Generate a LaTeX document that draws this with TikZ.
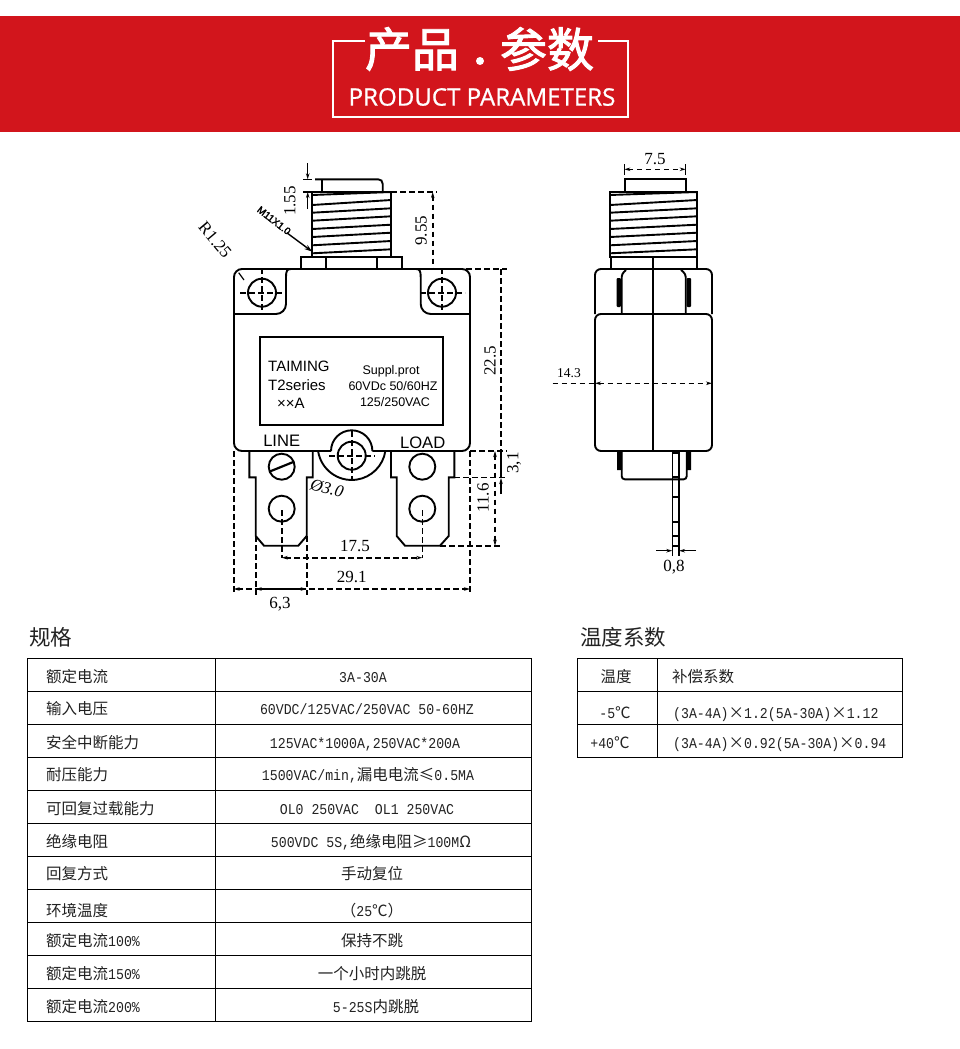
\documentclass[tikz,border=0pt]{standalone}
\usepackage{fontspec}
\usetikzlibrary{arrows.meta}
\setmainfont{Liberation Serif}
\setsansfont{Liberation Sans}
\setmonofont[FakeStretch=0.88]{Liberation Mono}
\newfontfamily\cjk{Noto Sans CJK SC}
\newfontfamily\cjkhead[FakeBold=2]{Noto Sans CJK SC}
\newfontfamily\headfont[FakeBold=0.9]{Open Sans}
\newfontfamily\threadfont[FakeBold=2.5]{Liberation Sans}
\definecolor{bannerred}{HTML}{D2151C}
\definecolor{ink}{HTML}{222222}
\newcommand\fz[1]{\fontsize{#1}{#1}\selectfont}
\newcommand\zh[1]{{\fz{15.5}\cjk #1}}
\newcommand\threads[2]{%
  \draw[part] (#1,195) -- (#2,192);
  \foreach \ya/\yb in {205/200,212.7/208.3,220.7/216.3,229/224.7,237/232.7,245.3/241,253.3/249.3}
    \draw[part] (#1,\ya) -- (#2,\yb);
}
\tikzset{
  x=1pt,y=-1pt,
  >={Stealth[length=6pt,width=3.5pt]},
  part/.style={line width=1.9pt,black},
  dashline/.style={line width=1.6pt,black,dash pattern=on 5.5pt off 3.5pt},
  dimsolid/.style={line width=1.4pt,black},
  dimtext/.style={inner sep=0pt,font=\fz{17}\rmfamily,text=black},
  smalltext/.style={inner sep=0pt,font=\fz{12.5}\sffamily,text=black},
  plate/.style={inner sep=0pt,font=\fz{15}\sffamily,text=black},
  tline/.style={line width=0.85pt,black},
  rowkey/.style={anchor=west,inner sep=0pt,text height=13pt,text depth=2pt,font=\fz{15}\ttfamily,text=ink},
  rowval/.style={anchor=center,inner sep=0pt,text height=13pt,text depth=2pt,font=\fz{15}\ttfamily,text=ink},
  sechead/.style={anchor=west,inner sep=0pt,font=\fz{21.5}\cjk,text=ink},
}
\begin{document}
\begin{tikzpicture}
\useasboundingbox (0,0) rectangle (960,1049);
\fill[white] (0,0) rectangle (960,1049);
% ---- banner
\fill[bannerred] (0,16) rectangle (960,132);
\draw[white,line width=2pt] (365,41) -- (333,41) -- (333,117) -- (628,117) -- (628,41) -- (598,41);
\node[inner sep=0pt,text=white,font=\fz{47}\cjkhead] (title1) at (412,49) {产品};
\node[inner sep=0pt,text=white,font=\fz{47}\cjkhead] (title2) at (547,49) {参数};
\fill[white] (480,61) circle[radius=4];
\node[inner sep=0pt,text=white,font=\fz{24.1}\headfont] (title3) at (482,97) {PRODUCT PARAMETERS};
% ---- front view: bushing
\draw[part] (315,179.3) -- (378,179.3) .. controls (381,179.3) and (382.7,181) .. (382.7,184) -- (382.7,192);
\draw[part] (321.7,179.3) -- (321.7,192);
\draw[part] (312.3,192) rectangle (391.3,257);
\threads{312.3}{391.3}
\draw[part] (301.3,257.3) rectangle (402.3,269);
\draw[part] (326,257.3) -- (326,269) (377.3,257.3) -- (377.3,269);
% body
\draw[part,rounded corners=8] (331,451) -- (234,451) -- (234,269) -- (470,269) -- (470,451) -- (372.4,451);
\draw[part] (331,451) arc[start angle=180,end angle=360,radius=20.7];
\draw[part] (318.1,451) arc[start angle=171.5,end angle=8.5,radius=34];
\draw[part,rounded corners=10] (234,314) -- (286,314) -- (286,277);
\draw[part] (286,277) .. controls (286,271) and (287,269) .. (291,269);
\draw[part,rounded corners=10] (470,314) -- (420.7,314) -- (420.7,277);
\draw[part] (420.7,277) .. controls (420.7,271) and (419.7,269) .. (416,269);
\draw[line width=1.2pt] (238.7,272.7) -- (244,280);
% holes
\draw[part] (262,292.7) circle[radius=14];
\draw[part] (442,292.7) circle[radius=14];
\draw[dashline] (240,292.7) -- (285,292.7) (262,268) -- (262,315);
\draw[dashline] (420,292.7) -- (465,292.7) (442,268) -- (442,315);
% label plate
\draw[part] (260,337) rectangle (443.3,425);
\node[plate,anchor=west] (pa) at (268,366.7) {TAIMING};
\node[plate,anchor=west] (pb) at (268,385) {T2series};
\node[plate,anchor=west] (pc) at (277,403) {××A};
\node[smalltext] (pd) at (391,371) {Suppl.prot};
\node[smalltext] (pe) at (393,386) {60VDc 50/60HZ};
\node[smalltext] (pf) at (395,402) {125/250VAC};
\node[inner sep=0pt,font=\fz{16.6}\sffamily] (line) at (281.7,440.7) {LINE};
\node[inner sep=0pt,font=\fz{16.6}\sffamily] (load) at (422.7,442.7) {LOAD};
% reset button
\draw[part] (351.7,455.7) circle[radius=14];
\draw[dashline] (329,455.7) -- (375,455.7) (351.7,431) -- (351.7,480);
% terminals
\draw[part] (249.3,451) -- (249.3,477.3) -- (255.7,477.3) -- (255.7,536) -- (264,545.7) -- (298.3,545.7) -- (306.7,536) -- (306.7,477.3) -- (312.7,477.3) -- (312.7,451);
\draw[part] (391,451) -- (391,477.3) -- (396.7,477.3) -- (396.7,536) -- (405,545.7) -- (440,545.7) -- (448.7,536) -- (448.7,477.3) -- (454.3,477.3) -- (454.3,451);
\draw[part] (281.7,466.7) circle[radius=13] (281.7,508.7) circle[radius=13];
\draw[part] (422.3,466.7) circle[radius=13] (422.3,508.7) circle[radius=13];
\draw[line width=2.2pt] (269.3,471.7) -- (294,461.7);
% dimensions front
\draw[dimsolid,->] (307.7,163) -- (307.7,179.3);
\draw[dimsolid,->] (307.7,209) -- (307.7,192);
\draw[dimsolid] (303,179.3) -- (312,179.3) (303,192) -- (312,192);
\draw[dashline] (391,192) -- (437,192);
\draw[dashline,<-] (432.7,192) -- (432.7,269);
\draw[dashline] (466,269) -- (507,269) (470,451) -- (507,451);
\draw[dashline] (501,269) -- (501,451);
\draw[dimsolid] (501,451) -- (501,478);
\draw[dimsolid,->] (501,494) -- (501,478);
\draw[dashline,<->] (495,451) -- (495,545.7);
\draw[dashline] (454,477.3) -- (508,477.3) (440,545.7) -- (500,545.7);
\draw[dashline] (233.7,451) -- (233.7,592) (470,451) -- (470,592);
\draw[dashline] (255.7,536) -- (255.7,595) (306.7,536) -- (306.7,595);
\draw[dashline] (281.7,510) -- (281.7,558) (422.3,510) -- (422.3,558);
\draw[dashline,<->] (281.7,557.7) -- (422.3,557.7);
\draw[dashline,<->] (233.7,589) -- (470,589);
\draw[dimsolid,<->] (255.7,589) -- (306.7,589);
\draw[line width=1.4pt,-{Stealth[length=8pt,width=5pt]}] (286.7,232.7) -- (312.3,251.7);
\node[inner sep=0pt,rotate=-38,font=\fz{10}\threadfont] (thr) at (274,220.5) {M11X1.0};
\node[dimtext,rotate=90] (d155) at (290,201) {1.55};
\node[dimtext,rotate=90] (d955) at (421,230.7) {9.55};
\node[dimtext,rotate=90] (d225) at (490,361) {22.5};
\node[dimtext,rotate=-50] (r125) at (215,240) {R1.25};
\node[dimtext] (d175) at (355,545.7) {17.5};
\node[dimtext] (d291) at (351.7,577) {29.1};
\node[dimtext] (d63) at (280,604) {6,3};
\node[dimtext,rotate=90] (d116) at (483,498) {11.6};
\node[dimtext,rotate=90] (d31) at (514,463) {3,1};
\node[dimtext,rotate=-15,font=\fz{17}\rmfamily\itshape] (d30) at (327,488) {Ø3.0};
% ---- side view
\draw[dimsolid] (624.3,164) -- (624.3,175) (685.7,164) -- (685.7,175);
\draw[dashline,<->] (624.3,169.3) -- (685.7,169.3);
\node[dimtext] (d75) at (655,159) {7.5};
\draw[part] (624.7,192) -- (624.7,179.3) -- (685.7,179.3) -- (685.7,192);
\draw[part] (610,192) rectangle (697.3,257.3);
\threads{610}{697.3}
\draw[part] (611,257.3) -- (611,269) (697,257.3) -- (697,269);
\draw[part,rounded corners=6] (595,314) -- (595,269) -- (712,269) -- (712,314);
\draw[part,rounded corners=6] (653.3,451) -- (595,451) -- (595,314) -- (712,314) -- (712,451) -- cycle;
\draw[part] (653.3,257.3) -- (653.3,451);
\draw[part,rounded corners=3] (621.7,314) -- (621.7,274) -- (626,270) (685.7,314) -- (685.7,274) -- (681,270);
\fill[black,rounded corners=1] (616.5,278) rectangle (620.8,307);
\fill[black,rounded corners=1] (686.6,278) rectangle (691,307);
\draw[part,rounded corners=3] (621.7,451) -- (621.7,479.3) -- (686.7,479.3) -- (686.7,451);
\fill[black] (617,451) rectangle (622,470) (686.5,451) rectangle (691,470);
\draw[line width=1.6pt] (672.3,451) -- (672.3,556) (679,451) -- (679,556);
\foreach \t in {453,477,497,521.7,536,546}
  \draw[line width=2pt] (672.3,\t) -- (679,\t);
\draw[dimsolid,->] (656,550.7) -- (672.3,550.7);
\draw[dimsolid,->] (696,550.7) -- (679,550.7);
\node[dimtext] (d08) at (674,567) {0,8};
\draw[dashline] (552.7,383.3) -- (595,383.3);
\draw[dashline,<->] (595,383.3) -- (712,383.3);
\node[dimtext,font=\fz{13.5}\rmfamily] (d143) at (569,373) {14.3};
% ---- spec table
\node[sechead] (h1) at (29,637) {规格};
\draw[tline] (27,658) rectangle (531,1021) (215,658) -- (215,1021);
\foreach \r in {691,724,757,790,823,856,889,922,955,988}
  \draw[tline] (27,\r) -- (531,\r);
\node[rowkey] (k1) at (46,677) {\zh{额定电流}};
\node[rowkey] (k2) at (46,709) {\zh{输入电压}};
\node[rowkey] (k3) at (46,742.5) {\zh{安全中断能力}};
\node[rowkey] (k4) at (46,775) {\zh{耐压能力}};
\node[rowkey] (k5) at (46,809) {\zh{可回复过载能力}};
\node[rowkey] (k6) at (46,841.5) {\zh{绝缘电阻}};
\node[rowkey] (k7) at (46,874) {\zh{回复方式}};
\node[rowkey] (k8) at (46,910.5) {\zh{环境温度}};
\node[rowkey] (k9) at (46,940.5) {\zh{额定电流}100\%};
\node[rowkey] (k10) at (46,974) {\zh{额定电流}150\%};
\node[rowkey] (k11) at (46,1007) {\zh{额定电流}200\%};
\node[rowval] (v1) at (363,677) {3A-30A};
\node[rowval] (v2) at (367,709) {60VDC/125VAC/250VAC 50-60HZ};
\node[rowval] (v3) at (365,742.5) {125VAC*1000A,250VAC*200A};
\node[rowval] (v4) at (368,775) {1500VAC/min,\zh{漏电电流≤}0.5MA};
\node[rowval] (v5) at (367,809) {OL0 250VAC  \ OL1 250VAC};
\node[rowval] (v6) at (371,841.5) {500VDC 5S,\zh{绝缘电阻≥}100M\zh{Ω}};
\node[rowval] (v7) at (372,874) {\zh{手动复位}};
\node[rowval] (v8) at (372,910.5) {\zh{（}25\zh{℃）}};
\node[rowval] (v9) at (372,940.5) {\zh{保持不跳}};
\node[rowval] (v10) at (372,974) {\zh{一个小时内跳脱}};
\node[rowval] (v11) at (376,1007) {5-25S\zh{内跳脱}};
% ---- temperature table
\node[sechead] (h2) at (580,637) {温度系数};
\draw[tline] (577,658) rectangle (902,757) (657,658) -- (657,757);
\draw[tline] (577,691.5) -- (902,691.5) (577,724.5) -- (902,724.5);
\node[rowval] (t1) at (616,677) {\zh{温度}};
\node[rowkey] (t2) at (672,677) {\zh{补偿系数}};
\node[rowval] (t3) at (615,712.5) {-5\zh{℃}};
\node[rowkey] (t4) at (673,712.5) {(3A-4A)\zh{×}1.2(5A-30A)\zh{×}1.12};
\node[rowval] (t5) at (610,742.5) {+40\zh{℃}};
\node[rowkey] (t6) at (673,742.5) {(3A-4A)\zh{×}0.92(5A-30A)\zh{×}0.94};
\end{tikzpicture}
\end{document}
